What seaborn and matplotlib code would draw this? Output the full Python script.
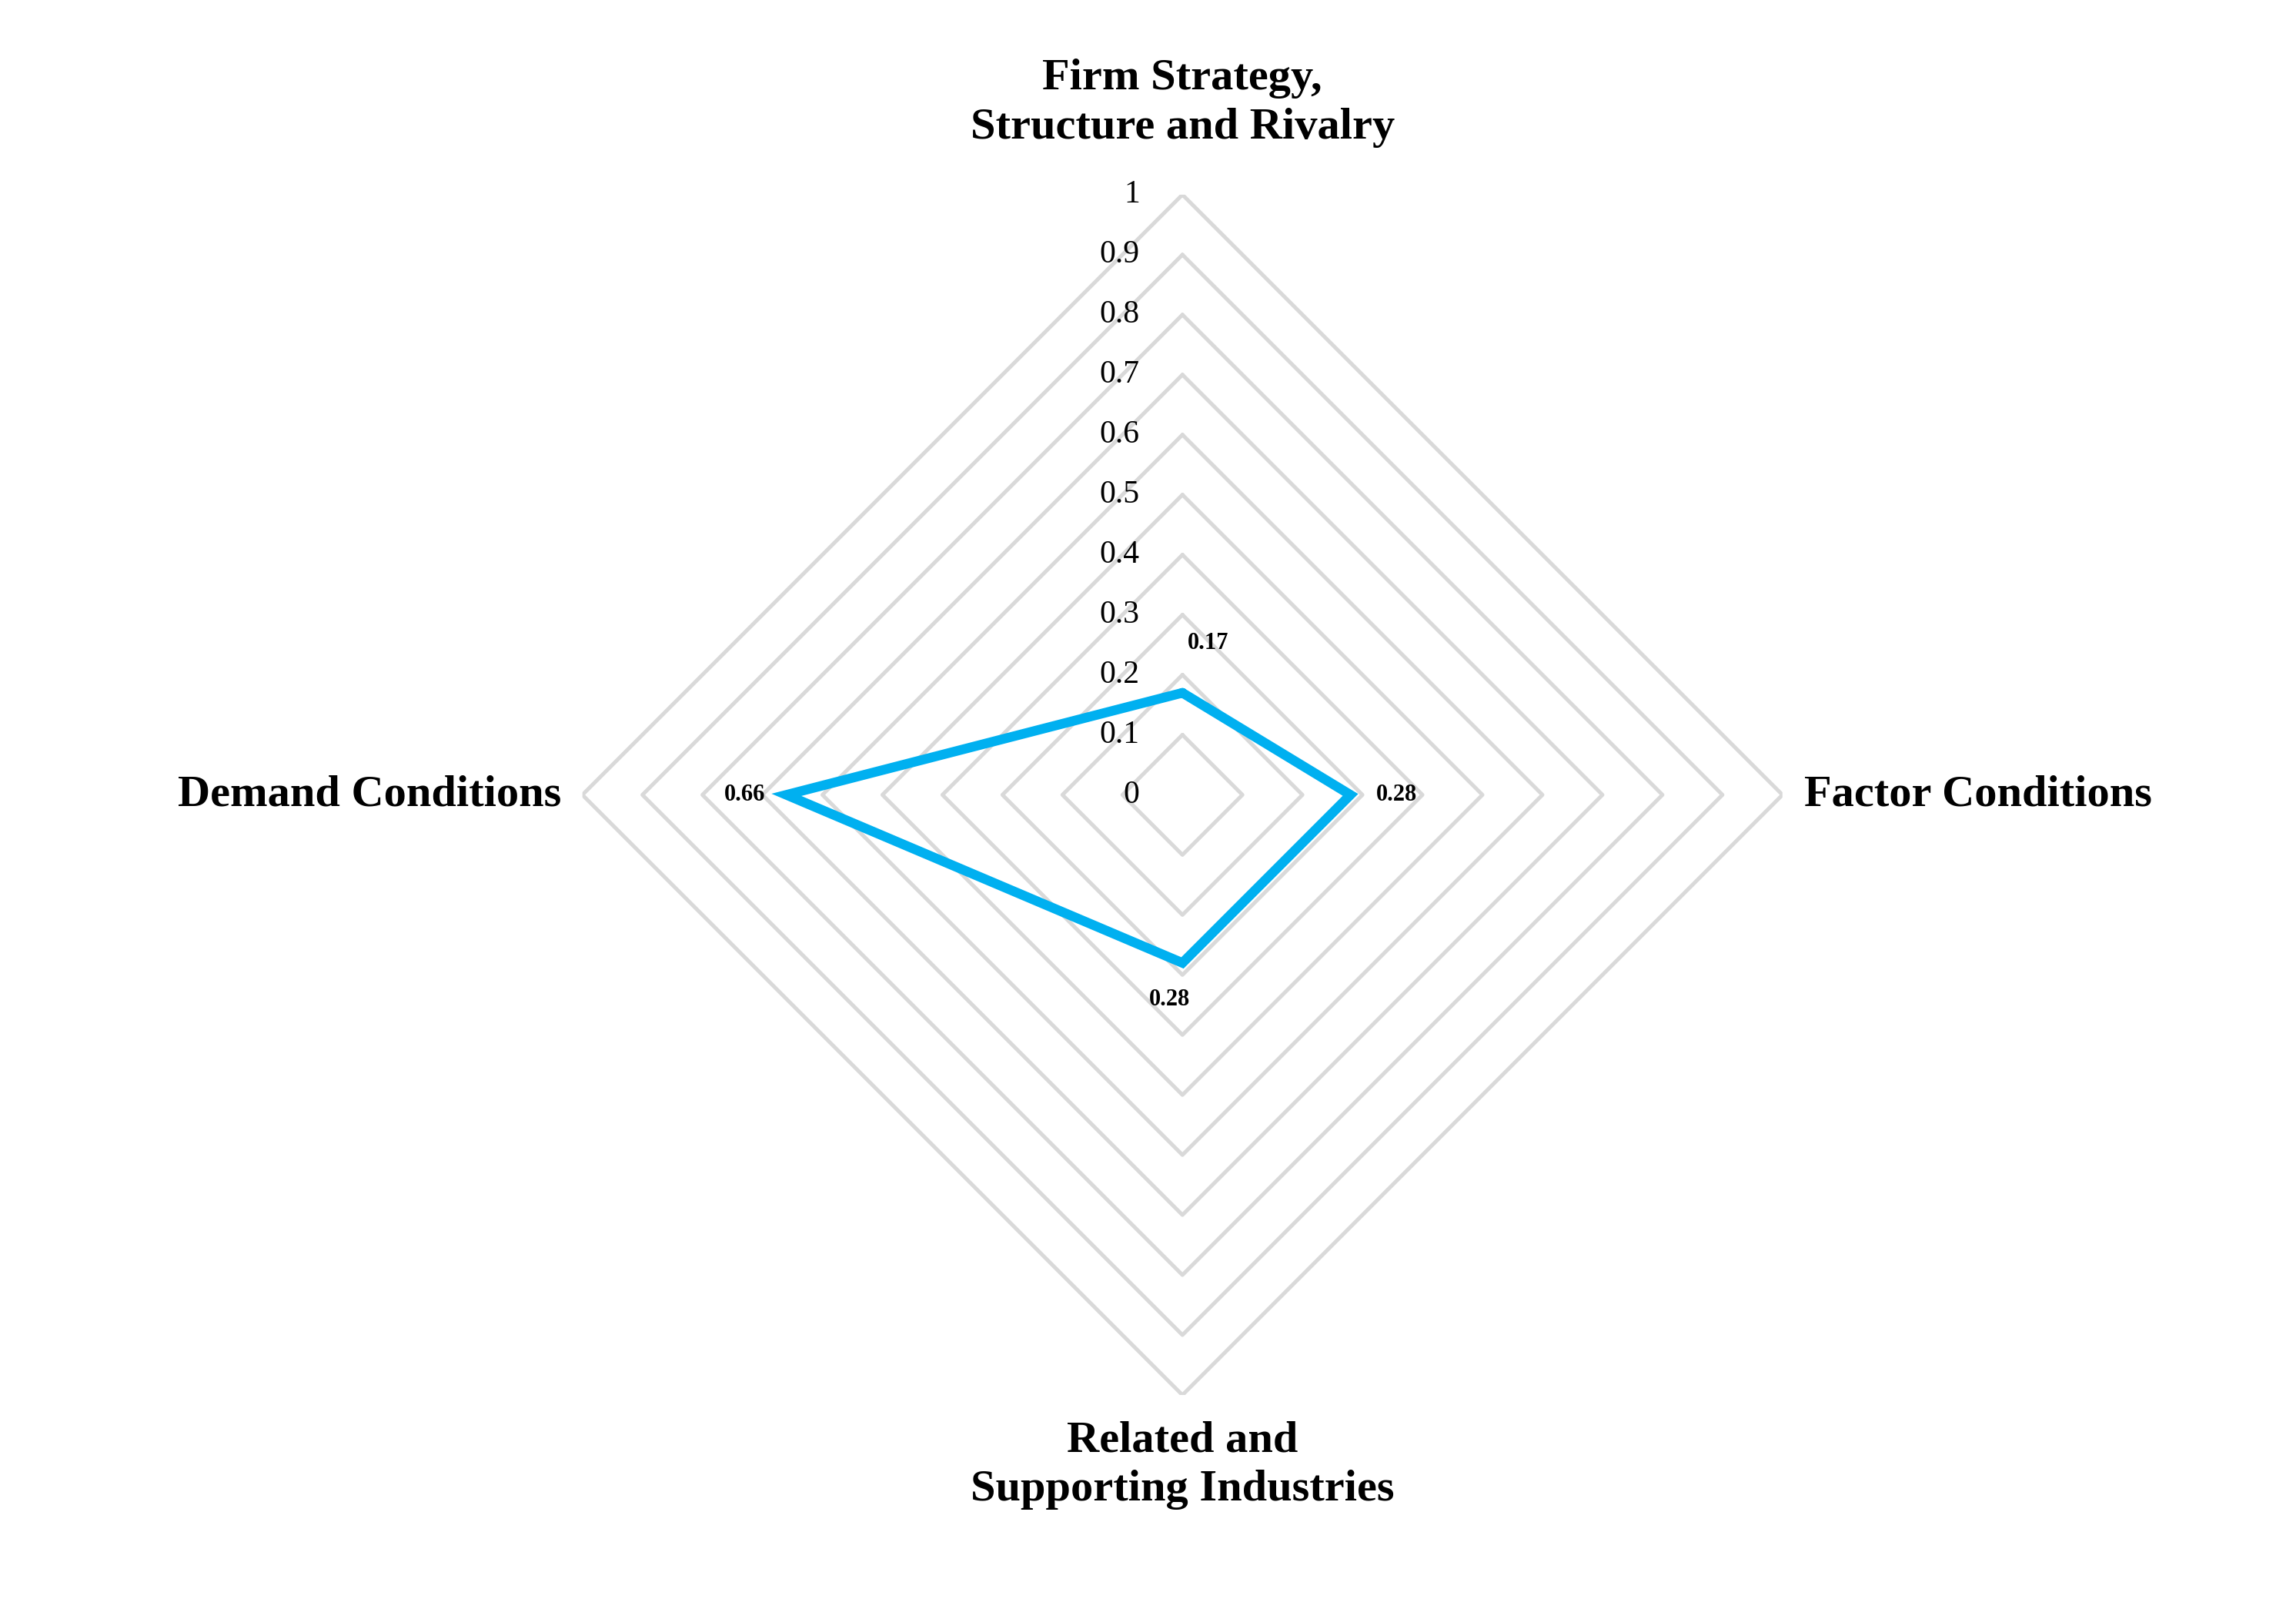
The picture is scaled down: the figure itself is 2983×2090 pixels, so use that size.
import numpy as np
import seaborn as sns
import matplotlib.pyplot as plt

sns.set_style("white")
plt.rcParams['font.family'] = ['Liberation Serif', 'DejaVu Serif']
plt.rcParams['text.color'] = 'black'

categories = ['Firm Strategy,\nStructure and Rivalry', 'Factor Conditions',
              'Related and\nSupporting Industries', 'Demand Conditions']
values = [0.17, 0.28, 0.28, 0.66]
ticks = [0, 0.1, 0.2, 0.3, 0.4, 0.5, 0.6, 0.7, 0.8, 0.9, 1]
tick_labels = ['0', '0.1', '0.2', '0.3', '0.4', '0.5', '0.6', '0.7', '0.8', '0.9', '1']

angles = np.arange(len(categories)) * 2 * np.pi / len(categories)
closed = np.append(angles, angles[0])

fig = plt.figure(figsize=(14.915, 10.45), dpi=200)
ax = fig.add_axes([0.515 - 0.2615, 0.506 - 0.373, 0.523, 0.746], polar=True)
ax.set_theta_offset(np.pi / 2)
ax.set_theta_direction(-1)
ax.set_ylim(0, 1)
ax.grid(False)
ax.spines['polar'].set_visible(False)
ax.set_xticks([])
ax.set_yticks([])

# diamond gridlines
for t in ticks[1:]:
    ax.plot(closed, [t] * len(closed), color='#d9d9d9', lw=1.8, zorder=1)

for t, lab in zip(ticks, tick_labels):
    ax.annotate(lab, (0, t), xytext=(-20, 0), textcoords='offset points',
                ha='right', va='center', fontsize=15)

v = values + values[:1]
ax.plot(closed, v, color='#00b0f0', lw=4.5, zorder=3, solid_joinstyle='miter')

lab_offsets = [(12, 18, 'center', 'bottom'), (12, 0, 'left', 'center'),
               (-6, -12, 'center', 'top'), (-10, 0, 'right', 'center')]
for a, val, (dx, dy, ha, va) in zip(angles, values, lab_offsets):
    ax.annotate(f'{val:.2f}', (a, val), xytext=(dx, dy), textcoords='offset points',
                ha=ha, va=va, fontsize=11, fontweight='bold')

cat_offsets = [(0, 22, 'center', 'bottom'), (10, 0, 'left', 'center'),
               (0, -12, 'center', 'top'), (-10, 0, 'right', 'center')]
for a, cat, (dx, dy, ha, va) in zip(angles, categories, cat_offsets):
    ax.annotate(cat, (a, 1), xytext=(dx, dy), textcoords='offset points',
                ha=ha, va=va, fontsize=21, fontweight='bold', linespacing=1.3,
                annotation_clip=False)

fig.savefig('out.png', dpi=200, facecolor='white')
